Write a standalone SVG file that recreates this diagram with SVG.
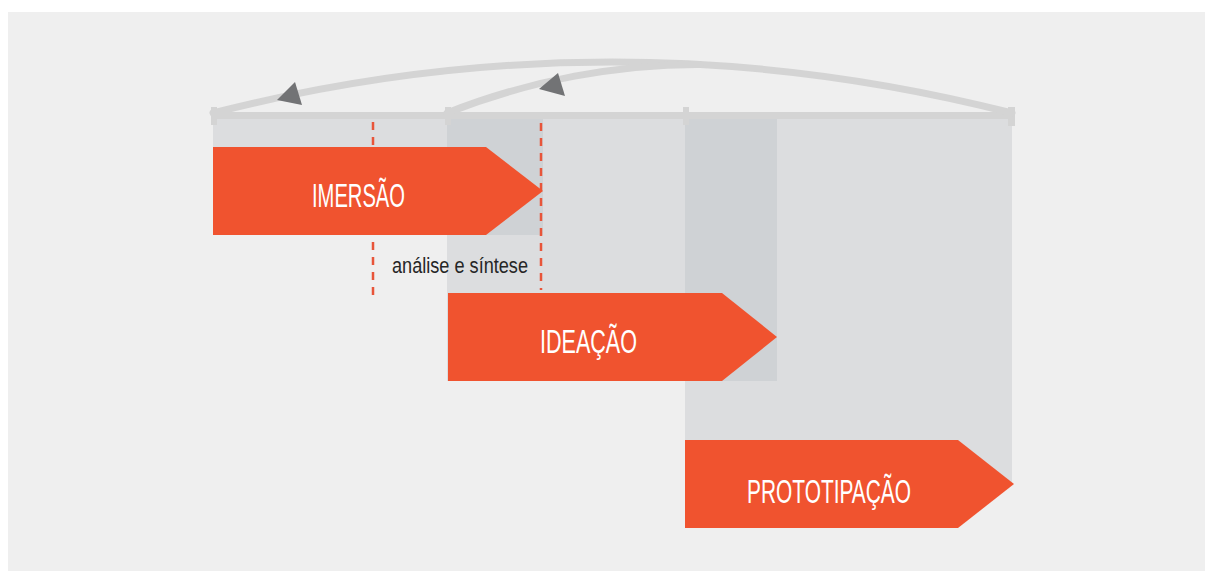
<svg xmlns="http://www.w3.org/2000/svg" xmlns:xlink="http://www.w3.org/1999/xlink" width="1205" height="571" viewBox="0 0 1205 571">
  <style>
    .panel { fill: #efefef; }
    .shade { fill: #dcdddf; }
    .shade-dark { fill: #cfd2d5; }
    .bar { fill: #d4d4d4; }
    .arc { fill: none; stroke: #d4d4d4; stroke-width: 7; stroke-linecap: round; }
    .head { fill: #727375; }
    .dash { stroke: #e8553a; stroke-width: 2.5; stroke-dasharray: 8 7; fill: none; }
    .phase { fill: #f0532f; }
    .label { font-family: "Liberation Sans", "DejaVu Sans", sans-serif; font-size: 33px; fill: #ffffff; }
    .note { font-family: "Liberation Sans", "DejaVu Sans", sans-serif; font-size: 22px; fill: #262626; }
  </style>
  <rect x="0" y="0" width="1205" height="571" fill="#ffffff"/>
  <rect class="panel" x="8" y="12" width="1197" height="559"/>

  <g id="phase-areas">
    <rect class="shade" x="213" y="119" width="330" height="116"/>
    <rect class="shade" x="447" y="119" width="330" height="262"/>
    <rect class="shade" x="685" y="119" width="327" height="365"/>
    <rect class="shade-dark" x="447" y="119" width="96" height="116"/>
    <rect class="shade-dark" x="685" y="119" width="92" height="262"/>
  </g>

  <g id="timeline">
    <rect class="bar" x="213" y="112" width="799" height="7"/>
    <rect class="bar" x="211" y="107" width="6" height="18"/>
    <rect class="bar" x="445" y="107" width="6" height="18"/>
    <rect class="bar" x="683" y="107" width="6" height="18"/>
    <rect class="bar" x="1008" y="107" width="7" height="19"/>
  </g>

  <g id="connectors">
    <path class="arc" d="M213,113 Q612,11 1012,113"/>
    <path class="arc" d="M447,113 C530,80 620,64 700,64.4"/>
    <polygon class="head" points="277,100 295,82 302,105"/>
    <polygon class="head" points="539,89 558,73 565,96"/>
  </g>

  <g id="analise-sintese">
    <line class="dash" x1="373" y1="122" x2="373" y2="298"/>
    <line class="dash" x1="541" y1="123" x2="541" y2="290"/>
    <text class="note" x="392" y="273" textLength="136" lengthAdjust="spacingAndGlyphs">análise e síntese</text>
  </g>

  <g id="imersao">
    <polygon class="phase" points="213,147 486,147 543,191 486,235 213,235"/>
    <text class="label" x="312" y="207" textLength="93" lengthAdjust="spacingAndGlyphs">IMERSÃO</text>
  </g>

  <g id="ideacao">
    <polygon class="phase" points="448,293 722,293 777,337 722,381 448,381"/>
    <text class="label" x="540" y="353" textLength="97" lengthAdjust="spacingAndGlyphs">IDEAÇÃO</text>
  </g>

  <g id="prototipacao">
    <polygon class="phase" points="685,440 958,440 1014,484 958,528 685,528"/>
    <text class="label" x="747" y="503" textLength="164" lengthAdjust="spacingAndGlyphs">PROTOTIPAÇÃO</text>
  </g>
</svg>
